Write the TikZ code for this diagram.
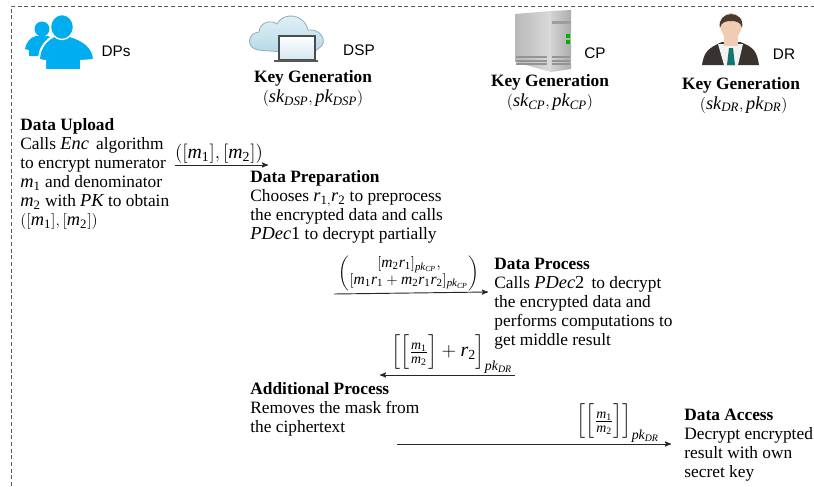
\documentclass[tikz,border=0pt]{standalone}
\usepackage{amsmath}
\usepackage{mathspec}
\setmainfont{Liberation Serif}
\setmathfont(Digits,Latin)[Scale=1.06,LetterSpace=5]{Liberation Serif}
\newfontfamily\labelfont{Liberation Sans}
\usetikzlibrary{arrows,positioning}
\definecolor{dpblue}{HTML}{00AEEF}
\definecolor{tiegreen}{HTML}{12756F}
\definecolor{suitgray}{HTML}{38332E}
\definecolor{skincol}{HTML}{F0CDB2}
\definecolor{haircol}{HTML}{4A3B2E}
\definecolor{cloudtop}{HTML}{E6F3F8}
\definecolor{cloudlow}{HTML}{B4D8E6}

\begin{document}
\begin{tikzpicture}[x=0.75pt,y=-0.75pt,>=stealth',semithick]
	\tikzstyle{every node}=[inner sep=0pt]
	\tikzstyle{party}=[font=\labelfont\fontsize{11.5}{13}\selectfont]
	\tikzstyle{keygen}=[align=center,font=\fontsize{13}{15}\selectfont]
	\tikzstyle{stage}=[anchor=north west,align=left,font=\fontsize{13}{14.2}\selectfont]
	\tikzstyle{msg}=[font=\fontsize{14}{15}\selectfont]
	\tikzstyle{flow}=[->,line width=0.7pt,draw=black!85]

	\useasboundingbox (0,0) rectangle (814,486);

	\coordinate (frameA) at (11,486);
	\coordinate (frameB) at (11,6);
	\coordinate (frameC) at (814,6);
	\draw[densely dashed,line width=0.6pt,draw=black!65] (frameA) -- (frameB) -- (frameC);

	\fill[dpblue] (42,29) circle (7.5);
	\fill[dpblue] (25,49) .. controls (26,42) and (31,37) .. (36,36) -- (48,36) .. controls (54,38) and (56,42) .. (56,49) -- (56,56) -- (29,56) -- (29,50) -- cycle;
	\draw[white,line width=1.5pt,fill=dpblue] (39,60) .. controls (39,48) and (46,40) .. (54,36) -- (70,36) .. controls (84,40) and (94,48) .. (94,60) -- (81,61) -- (81,70) -- (45,70) -- (45,61) -- cycle;
	\draw[white,line width=1pt,fill=dpblue] (62,27) ellipse (11.5 and 12.5);

	\draw[draw=cloudlow!80!black,top color=cloudtop,bottom color=cloudlow] (258,50) .. controls (246,48) and (247,33) .. (259,32) .. controls (260,21) and (272,20) .. (277,24) .. controls (283,12) and (304,13) .. (308,30) .. controls (320,28) and (330,42) .. (318,49) .. controls (316,53) and (290,53) .. (258,50) -- cycle;
	\draw[draw=black!70,line width=1pt,top color=white,bottom color=cloudlow!60] (279,36) rectangle (315,60);
	\fill[black!65] (274,60) rectangle (318,62);

	\shade[left color=black!28,right color=black!14] (515,14) -- (551,11) -- (551,72) -- (515,62) -- cycle;
	\shade[left color=black!18,right color=black!32] (551,11) -- (571,10) -- (571,69) -- (551,72) -- cycle;
	\fill[black!38] (552,21) rectangle (571,24);
	\foreach \ypos in {56,60,63}{
		\fill[black!42] (516,\ypos) rectangle (547,\ypos+1.5);
		\fill[black!42] (552,\ypos) rectangle (570,\ypos+1.5);
	}
	\fill[green!70!black] (566,34) rectangle (570,38);
	\fill[green!70!black] (566,40) rectangle (570,44);

	\fill[suitgray] (702,65) .. controls (704,52) and (708,48) .. (722,42) -- (740,42) .. controls (754,47) and (757,52) .. (759,65) -- cycle;
	\fill[black!5] (718,44) -- (743,44) -- (738,65) -- (724,65) -- cycle;
	\fill[tiegreen] (729,48) -- (733,48) -- (735,65) -- (727,65) -- cycle;
	\fill[skincol] (724,36) rectangle (738,46);
	\fill[skincol] (731,26) ellipse (10.5 and 13);
	\fill[haircol] (720,28) .. controls (716,10) and (746,9) .. (742,28) .. controls (741,22) and (736,21) .. (731,21) .. controls (726,21) and (721,22) .. (720,28) -- cycle;

	\node[party] (DPs) at (116,51) {DPs};
	\node[party] (DSP) at (359,50) {DSP};
	\node[party] (CP) at (595,53) {CP};
	\node[party] (DR) at (784,54) {DR};

	\node[keygen] (keyDSP) at (313,88) {\textbf{Key Generation}\\$(sk_{DSP},pk_{DSP})$};
	\node[keygen] (keyCP) at (550,92) {\textbf{Key Generation}\\$(sk_{CP},pk_{CP})$};
	\node[keygen] (keyDR) at (741,95) {\textbf{Key Generation}\\\hspace*{4pt}$(sk_{DR},pk_{DR})$};

	\node[stage] (upload) at (20,118) {\textbf{Data Upload}\\Calls $Enc$\, algorithm\\to encrypt numerator\\$m_1$ and denominator\\$m_2$ with $PK$ to obtain\\$([m_1],[m_2])$};
	\node[stage] (prepare) at (250,170) {\textbf{Data Preparation}\\Chooses $r_{1,}r_2$ to preprocess\\the encrypted data and calls\\$PDec1$ to decrypt partially};
	\node[stage] (process) at (494,258) {\textbf{Data Process}\\Calls $PDec2$\, to decrypt\\the encrypted data and\\performs computations to\\get middle result};
	\node[stage] (additional) at (250,382) {\textbf{Additional Process}\\Removes the mask from\\the ciphertext};
	\node[stage] (access) at (684,409) {\textbf{Data Access}\\Decrypt encrypted\\result with own\\secret key};

	\coordinate (sendA) at (175,165);
	\coordinate (sendB) at (268,165);
	\coordinate (blindA) at (334,294);
	\coordinate (blindB) at (488,292);
	\coordinate (middleA) at (515,375);
	\coordinate (middleB) at (380,375);
	\coordinate (resultA) at (397,444);
	\coordinate (resultB) at (671,444);

	\node[msg] (sendMsg) at (219,154) {$([m_1],[m_2])$};
	\node[msg] (blindMsg) at (409,273) {\fontsize{11}{13}\selectfont\renewcommand{\arraystretch}{0.85}$\left(\begin{array}{@{}c@{}}[m_2r_1]_{pk_{CP}},\\[1pt][m_1r_1+m_2r_1r_2]_{pk_{CP}}\end{array}\right)$};
	\node[msg] (middleMsg) at (452,354) {$\left[\left[\frac{m_1}{m_2}\right]+r_2\right]_{pk_{DR}}$};
	\node[msg] (resultMsg) at (618,423) {$\left[\left[\frac{m_1}{m_2}\right]\right]_{pk_{DR}}$};

	\draw[flow] (sendA) -- (sendB);
	\draw[flow] (blindA) -- (blindB);
	\draw[flow] (middleA) -- (middleB);
	\draw[flow] (resultA) -- (resultB);
\end{tikzpicture}
\end{document}
